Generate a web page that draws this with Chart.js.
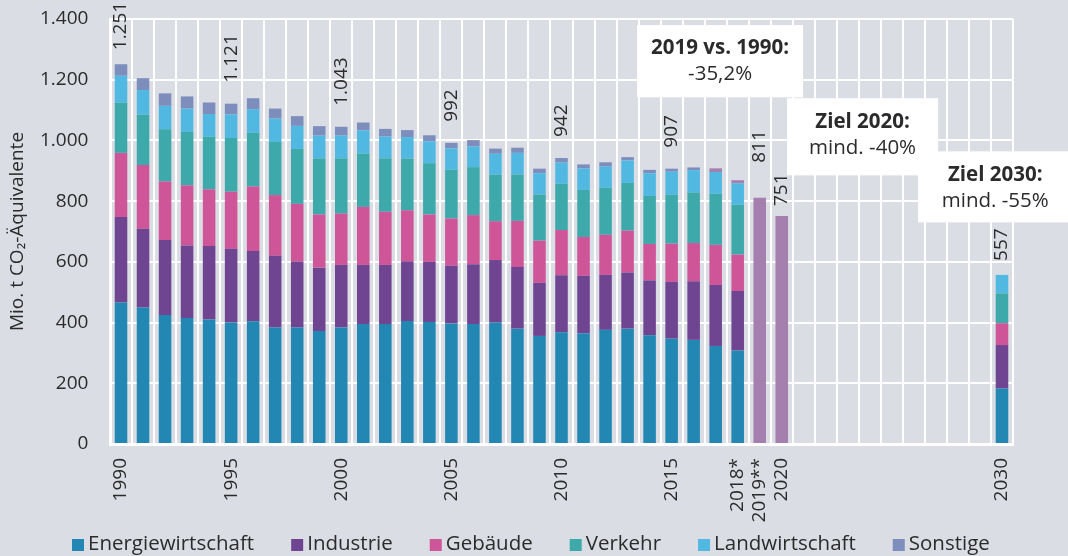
<!DOCTYPE html>
<html><head><meta charset="utf-8">
<script src="https://cdn.jsdelivr.net/npm/chart.js@4/dist/chart.umd.min.js"></script>
<style>html,body{margin:0;padding:0;background:#dadde3;overflow:hidden}</style>
</head><body>
<canvas id="c" width="1068" height="556"></canvas>
<script>
// ---------- data ----------
const categories = ['1990','1991','1992','1993','1994','1995','1996','1997','1998','1999',
  '2000','2001','2002','2003','2004','2005','2006','2007','2008','2009',
  '2010','2011','2012','2013','2014','2015','2016','2017','2018*','2019**',
  '2020','2021','2022','2023','2024','2025','2026','2027','2028','2029','2030'];
const shownTicks = ['1990','1995','2000','2005','2010','2015','2018*','2019**','2020','2030'];
const N = null;
const energie = [466,450,425,415,410,400,404,384,384,372,384,395,395,405,402,397,395,400,380,356,368,365,376,380,358,347,343,323,308, N,N, N,N,N,N,N,N,N,N,N, 183];
const industrie = [282,259,247,239,242,243,232,236,217,209,206,195,195,197,198,190,197,206,203,175,188,189,181,185,181,187,193,201,196, N,N, N,N,N,N,N,N,N,N,N, 143];
const gebaeude = [211,210,193,198,187,188,212,200,190,175,169,191,175,168,156,156,162,128,152,139,149,128,132,138,120,126,126,132,120, N,N, N,N,N,N,N,N,N,N,N, 72];
const verkehr = [165,166,172,176,173,177,177,175,181,185,182,176,176,170,169,160,158,153,153,152,152,155,155,157,158,161,167,168,164, N,N, N,N,N,N,N,N,N,N,N, 98];
const landwirtschaft = [89,81,77,77,75,78,78,77,76,75,75,76,72,71,72,71,68,69,71,70,70,71,70,74,75,76,73,72,71, N,N, N,N,N,N,N,N,N,N,N, 61];
const sonstige = [38,39,41,40,38,35,36,33,32,31,29,26,25,23,20,18,21,17,17,15,15,13,14,11,11,10,9,12,10, N,N, N,N,N,N,N,N,N,N,N, N];
const gesamt = [N,N,N,N,N,N,N,N,N,N,N,N,N,N,N,N,N,N,N,N,N,N,N,N,N,N,N,N,N, 811,751, N,N,N,N,N,N,N,N,N, N];
const labelCats = ['1990','1995','2000','2005','2010','2015','2019**','2020','2030'];
const labelValues = [1251,1121,1043,992,942,907,811,751,557];
const yTicks = [0,200,400,600,800,1000,1200,1400];

// ---------- styling ----------
const FONT = 'Open Sans';
const TXT = '#2b2b2b';
const BG = '#dadde3';
const C = {e:'#2387b4', i:'#6f4592', g:'#cf5599', v:'#3ea9aa', l:'#51b8e2', s:'#7d8ebd', p:'#a57fad'};
const sonstigeColors = categories.map(c => (c === '2017' || c === '2018*') ? C.p : C.s);
const fmt = v => String(v).replace(/\B(?=(\d{3})+(?!\d))/g, '.');
const labelGap = {'1990': 14, '2019**': 35, '2020': 10, '2030': 14};

const bgPlugin = {
  id: 'bg',
  beforeDraw(chart) {
    const ctx = chart.ctx; ctx.save(); ctx.fillStyle = BG;
    ctx.fillRect(0, 0, chart.width, chart.height); ctx.restore();
  }
};

const valueLabels = {
  id: 'valueLabels',
  afterDatasetsDraw(chart) {
    const ctx = chart.ctx, xs = chart.scales.x, ys = chart.scales.y;
    ctx.save();
    ctx.fillStyle = TXT; ctx.font = '19px "' + FONT + '"';
    labelCats.forEach((cat, k) => {
      const i = categories.indexOf(cat);
      let total = 0;
      chart.data.datasets.forEach(ds => { const v = ds.data[i]; if (v) total += v; });
      const x = xs.getPixelForValue(i);
      const y = ys.getPixelForValue(total) - (labelGap[cat] !== undefined ? labelGap[cat] : 21);
      ctx.save(); ctx.translate(x, y); ctx.rotate(-Math.PI / 2);
      ctx.textAlign = 'left'; ctx.textBaseline = 'middle';
      ctx.fillText(fmt(labelValues[k]), 0, 0); ctx.restore();
    });
    ctx.restore();
  }
};

const boxes = [
  {x0: 23.43, x1: 30.97, y0: 1380, y1: 1142, title: '2019 vs. 1990:', sub: '-35,2%'},
  {x0: 30.24, x1: 37.10, y0: 1139, y1: 885, title: 'Ziel 2020:', sub: 'mind. -40%'},
  {x0: 36.19, x1: 43.2, y0: 964, y1: 730, title: 'Ziel 2030:', sub: 'mind. -55%'}
];
const boxPlugin = {
  id: 'boxes',
  afterDraw(chart) {
    const ctx = chart.ctx, xs = chart.scales.x, ys = chart.scales.y;
    ctx.save();
    boxes.forEach(b => {
      const l = xs.getPixelForValue(b.x0), r = xs.getPixelForValue(b.x1);
      const t = ys.getPixelForValue(b.y0), bt = ys.getPixelForValue(b.y1);
      ctx.fillStyle = '#ffffff'; ctx.fillRect(l, t, r - l, bt - t);
      const cx = (l + r) / 2;
      ctx.fillStyle = TXT; ctx.textAlign = 'center'; ctx.textBaseline = 'middle';
      ctx.font = 'bold 20.5px "' + FONT + '"'; ctx.fillText(b.title, cx, t + 23.5);
      ctx.font = '20.5px "' + FONT + '"'; ctx.fillText(b.sub, cx, t + 49.5);
    });
    ctx.restore();
  }
};

const legendPlugin = {
  id: 'customLegend',
  afterDraw(chart) {
    const ctx = chart.ctx;
    ctx.save();
    ctx.font = '20.5px "' + FONT + '"'; ctx.textBaseline = 'middle'; ctx.textAlign = 'left';
    let x = 72; const yc = 545;
    chart.data.datasets.filter(d => d.inLegend).forEach(d => {
      ctx.fillStyle = d.legendColor; ctx.fillRect(x, yc - 6, 12, 12);
      ctx.fillStyle = TXT; ctx.fillText(d.label, x + 16, yc - 1);
      x += 16 + ctx.measureText(d.label).width + 37;
    });
    ctx.restore();
  }
};

const mk = (label, data, color, legendColor) => ({
  label, data, backgroundColor: color, legendColor: legendColor || color, inLegend: true,
  stack: 'a', barPercentage: 0.57, categoryPercentage: 1.0, borderWidth: 0
});

const datasets = [
  mk('Energiewirtschaft', energie, C.e),
  mk('Industrie', industrie, C.i),
  mk('Gebäude', gebaeude, C.g),
  mk('Verkehr', verkehr, C.v),
  mk('Landwirtschaft', landwirtschaft, C.l),
  mk('Sonstige', sonstige, sonstigeColors, C.s),
  Object.assign(mk('Gesamt', gesamt, C.p), {inLegend: false})
];

new Chart(document.getElementById('c'), {
  type: 'bar',
  data: {labels: categories, datasets},
  options: {
    responsive: false, animation: false, devicePixelRatio: 1,
    layout: {padding: {top: 0, right: 55, bottom: 32, left: 0}},
    plugins: {legend: {display: false}, tooltip: {enabled: false}},
    scales: {
      x: {
        stacked: true, offset: true,
        grid: {offset: true, color: '#ffffff', lineWidth: 2, drawTicks: false},
        border: {display: true, color: '#ffffff', width: 3},
        ticks: {autoSkip: false, maxRotation: 90, minRotation: 90, padding: 14, color: TXT,
          font: {family: FONT, size: 19},
          callback: function(v, i) { const c = categories[i]; return shownTicks.includes(c) ? c : ''; }},
        afterFit(s) { s.height = 80; }
      },
      y: {
        stacked: true, min: 0, max: 1400,
        afterBuildTicks(s) { s.ticks = yTicks.map(v => ({value: v})); },
        grid: {color: '#ffffff', lineWidth: 2, drawTicks: true, tickLength: 14, tickColor: 'rgba(0,0,0,0)'},
        border: {color: '#ffffff', width: 3},
        ticks: {padding: 7.6, color: TXT, font: {family: FONT, size: 19}, callback: v => fmt(v)},
        title: {display: true, text: 'Mio. t CO₂-Äquivalente', color: TXT,
          font: {family: FONT, size: 19}, padding: {top: 6, bottom: 0}},
        afterFit(s) { s.width = 110; }
      }
    }
  },
  plugins: [bgPlugin, valueLabels, boxPlugin, legendPlugin]
});
</script>
</body></html>
